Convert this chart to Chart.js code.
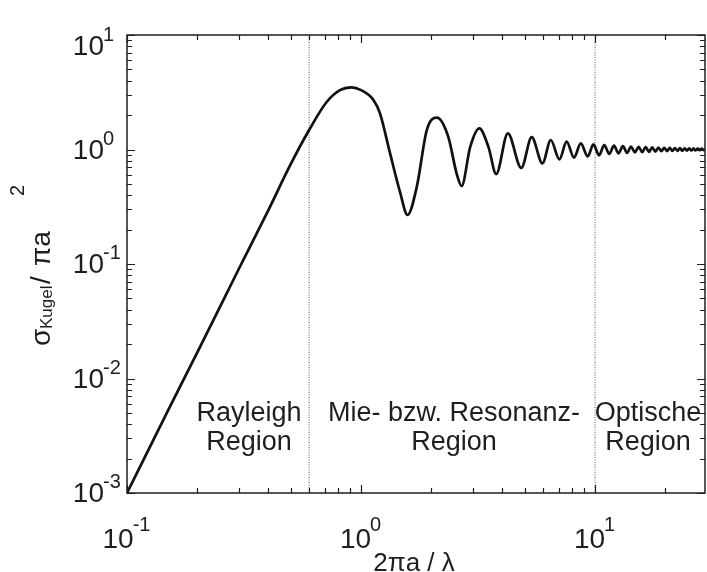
<!DOCTYPE html>
<html>
<head>
<meta charset="utf-8">
<script src="https://cdn.jsdelivr.net/npm/chart.js@4.4.1/dist/chart.umd.min.js"></script>
<style>
  html, body { margin: 0; padding: 0; background: #ffffff; }
  canvas { display: block; }
</style>
</head>
<body>
<canvas id="rcs" width="707" height="572"></canvas>
<script>
// Normalised backscatter cross-section of a conducting sphere versus 2πa/λ
const ka = [
  0.1, 0.15, 0.2, 0.3, 0.4, 0.5, 0.6, 0.713, 0.813, 0.912,
  1.0, 1.13, 1.205, 1.33, 1.47, 1.58, 1.73, 1.91, 2.11, 2.36,
  2.56, 2.69, 2.93, 3.2, 3.5, 3.78, 4.24, 4.84, 5.36, 5.96,
  6.47, 7.04, 7.56, 8.13, 8.69, 9.31, 9.84, 10.4, 10.95, 11.5,
  12.05, 12.6, 13.15, 13.7, 14.25, 14.8, 15.35, 15.9, 16.45, 17.0,
  17.55, 18.1, 18.65, 19.2, 19.75, 20.3, 20.85, 21.4, 21.95, 22.5,
  23.05, 23.6, 24.15, 24.7, 25.25, 25.8, 26.35, 26.9, 27.45, 28.0,
  28.55, 29.1, 29.5
];
const sigmaNorm = [
  0.001, 0.0053, 0.017, 0.09, 0.29, 0.74, 1.48, 2.6, 3.3, 3.49,
  3.3, 2.71, 2.07, 0.93, 0.42, 0.268, 0.47, 1.48, 1.9, 1.29,
  0.62, 0.48, 1.06, 1.53, 1.06, 0.61, 1.385, 0.69, 1.28, 0.758,
  1.21, 0.82, 1.17, 0.85, 1.13, 0.87, 1.11, 0.89, 1.09, 0.915,
  1.08, 0.925, 1.07, 0.935, 1.06, 0.945, 1.055, 0.95, 1.05, 0.955,
  1.045, 0.96, 1.04, 0.965, 1.036, 0.968, 1.033, 0.971, 1.03, 0.974,
  1.027, 0.976, 1.025, 0.978, 1.023, 0.98, 1.021, 0.982, 1.019, 0.984,
  1.017, 0.985, 1.0
];
// Region boundaries (dotted verticals)
const boundaries = [0.6, 10];
// Axis ranges and decade tick exponents
const xRange = [0.1, 29.5];
const yRange = [0.001, 10];
const xDecades = [-1, 0, 1];
const yDecades = [-3, -2, -1, 0, 1];
// Region captions
const regionLines = [
  ['Rayleigh', 'Region'],
  ['Mie- bzw. Resonanz-', 'Region'],
  ['Optische', 'Region']
];

const FONT = '"Liberation Sans", Arial, Helvetica, sans-serif';
const INK = '#1e1e1e';

const curve = ka.map((v, i) => ({ x: v, y: sigmaNorm[i] }));
const boundarySets = boundaries.map(b => ({
  data: [{ x: b, y: yRange[0] }, { x: b, y: yRange[1] }],
  borderColor: '#5a5a5a',
  borderWidth: 1,
  borderDash: [1, 1.5],
  pointRadius: 0,
  tension: 0,
  order: 2
}));

function fmtExp(e) { return e < 0 ? '-' + Math.abs(e) : String(e); }

const decorations = {
  id: 'decorations',
  afterDraw(chart) {
    const { ctx, chartArea: a, scales } = chart;
    const xs = scales.x, ys = scales.y;
    ctx.save();

    // frame
    ctx.strokeStyle = INK;
    ctx.lineWidth = 1.5;
    ctx.strokeRect(a.left, a.top, a.right - a.left, a.bottom - a.top);

    // inward ticks on all four sides
    const major = 8, minor = 5;
    ctx.lineWidth = 1.2;
    ctx.beginPath();
    for (let d = Math.floor(Math.log10(xRange[0])); d <= Math.ceil(Math.log10(xRange[1])); d++) {
      for (let m = 1; m <= 9; m++) {
        const v = m * Math.pow(10, d);
        if (v < xRange[0] || v > xRange[1]) continue;
        const px = Math.round(xs.getPixelForValue(v)) + 0.5;
        const len = m === 1 ? major : minor;
        ctx.moveTo(px, a.bottom); ctx.lineTo(px, a.bottom - len);
        ctx.moveTo(px, a.top); ctx.lineTo(px, a.top + len);
      }
    }
    for (let d = Math.floor(Math.log10(yRange[0])); d <= Math.ceil(Math.log10(yRange[1])); d++) {
      for (let m = 1; m <= 9; m++) {
        const v = m * Math.pow(10, d);
        if (v < yRange[0] || v > yRange[1]) continue;
        const py = Math.round(ys.getPixelForValue(v)) + 0.5;
        const len = m === 1 ? major : minor;
        ctx.moveTo(a.left, py); ctx.lineTo(a.left + len, py);
        ctx.moveTo(a.right, py); ctx.lineTo(a.right - len, py);
      }
    }
    ctx.stroke();

    ctx.fillStyle = INK;
    ctx.textBaseline = 'alphabetic';

    // y tick labels: 10 with raised exponent
    yDecades.forEach(e => {
      const py = ys.getPixelForValue(Math.pow(10, e));
      const base = Math.max(py + 9, a.top + 20);
      ctx.font = '28px ' + FONT;
      ctx.textAlign = 'right';
      ctx.fillText('10', 104, base);
      ctx.font = '20px ' + FONT;
      ctx.textAlign = 'left';
      ctx.fillText(fmtExp(e), 103, base - 14);
    });

    // x tick labels
    xDecades.forEach(e => {
      const px = xs.getPixelForValue(Math.pow(10, e));
      ctx.font = '28px ' + FONT;
      const wb = ctx.measureText('10').width;
      ctx.font = '20px ' + FONT;
      const we = ctx.measureText(fmtExp(e)).width;
      const x0 = px - (wb + we) / 2;
      ctx.textAlign = 'left';
      ctx.font = '28px ' + FONT;
      ctx.fillText('10', x0, 548);
      ctx.font = '20px ' + FONT;
      ctx.fillText(fmtExp(e), x0 + wb - 1, 531);
    });

    // x axis title
    ctx.font = '26px ' + FONT;
    ctx.textAlign = 'center';
    ctx.fillText('2πa / λ', 414, 571);

    // y axis title, rotated, with subscript and superscript
    ctx.save();
    ctx.translate(50, 346);
    ctx.rotate(-Math.PI / 2);
    ctx.textAlign = 'left';
    ctx.font = '28px ' + FONT;
    ctx.fillText('σ', 0, 0);
    ctx.font = '17px ' + FONT;
    ctx.fillText('Kugel', 17, 2);
    ctx.font = '28px ' + FONT;
    ctx.fillText('/', 62, 0);
    ctx.fillText('πa', 80, 0);
    ctx.font = '20px ' + FONT;
    ctx.fillText('2', 150, -26);
    ctx.restore();

    // region captions
    ctx.font = '27px ' + FONT;
    ctx.textAlign = 'center';
    const centers = [249, 454, 648];
    regionLines.forEach((lines, i) => {
      lines.forEach((t, j) => ctx.fillText(t, centers[i], 421 + j * 29));
    });

    ctx.restore();
  }
};

new Chart(document.getElementById('rcs'), {
  type: 'line',
  data: {
    datasets: [
      {
        data: curve,
        borderColor: '#111111',
        borderWidth: 2.7,
        pointRadius: 0,
        cubicInterpolationMode: 'monotone',
        order: 1
      },
      ...boundarySets
    ]
  },
  options: {
    responsive: false,
    animation: false,
    devicePixelRatio: 1,
    layout: { padding: { left: 127, right: 2, top: 35, bottom: 79 } },
    plugins: { legend: { display: false }, tooltip: { enabled: false } },
    scales: {
      x: { type: 'logarithmic', min: xRange[0], max: xRange[1], display: false },
      y: { type: 'logarithmic', min: yRange[0], max: yRange[1], display: false }
    }
  },
  plugins: [decorations]
});
</script>
</body>
</html>
